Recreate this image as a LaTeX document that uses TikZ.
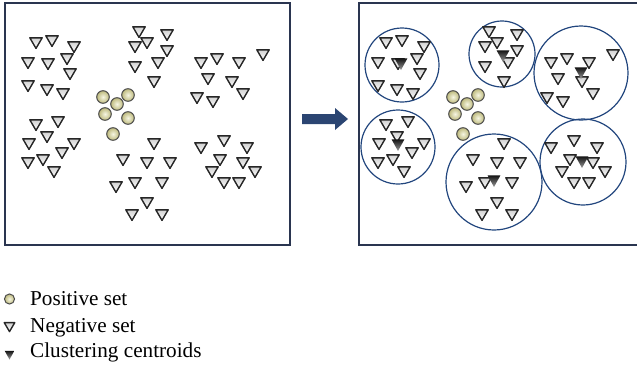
\documentclass[tikz,border=0pt]{standalone}
\usepackage{fontspec}
\setmainfont{Liberation Serif}
\definecolor{navy}{HTML}{2B4572}
\definecolor{ringc}{HTML}{22467E}
\definecolor{framec}{HTML}{2A3550}
\definecolor{posin}{HTML}{F6F6E2}
\definecolor{posout}{HTML}{BDB97C}
\tikzset{
  negtri/.pic={\path[draw=black!85, line width=1.4pt, line join=round, top color=black!18, bottom color=white]
     (-6.2,-5.2) -- (6.2,-5.2) -- (0,5.4) -- cycle;},
  centtri/.pic={\path[top color=black!92, bottom color=black!40]
     (-6.4,-5.6) -- (6.4,-5.6) -- (0,6) -- cycle;},
  posdot/.pic={\path[draw=black!70, line width=1pt, inner color=posin, outer color=posout]
     (0,0) circle (6.3);},
  panel/.style={draw=framec, line width=1.1pt},
  ring/.style={draw=ringc, line width=1.2pt},
  legtext/.style={anchor=base west, inner sep=0pt, font=\fontsize{21.2}{25}\selectfont},
}
\begin{document}
\begin{tikzpicture}[x=1pt,y=-1pt]
\useasboundingbox (0,0) rectangle (637,370);
\clip (0,0) rectangle (637,370);
% panels
\draw[panel] (5,3) rectangle (290,245);
\draw[panel] (359,3) rectangle (660,245);
% arrow
\fill[navy] (302,114) -- (335,114) -- (335,108) -- (348,119) -- (335,130) -- (335,124) -- (302,124) -- cycle;
% rings (right panel)
\draw[ring] (402,65) circle (37);
\draw[ring] (502,54) circle (33);
\draw[ring] (581,73) circle (47);
\draw[ring] (398,147) circle (37);
\draw[ring] (494,182) circle (48);
\draw[ring] (583,162) circle (43);
% negative set, both panels
\foreach \x/\y in {36/43, 52/41, 74/47, 28/63, 48/64, 67/59, 70/74, 28/86, 47/90, 63/94,
  139/32, 167/35, 135/47, 147/43, 167/51, 135/67, 158/63, 154/82,
  201/63, 217/59, 239/63, 263/55, 208/79, 232/82, 243/94, 197/98, 213/102,
  36/125, 58/122, 47/137, 29/144, 74/144, 62/153, 28/163, 43/160, 54/172,
  154/144, 123/160, 147/163, 170/163, 116/187, 135/183, 162/183, 147/203, 132/215, 162/215,
  201/148, 224/141, 247/148, 220/160, 243/163, 212/172, 255/172, 224/183, 239/183}
{
  \pic at (\x,\y) {negtri};
  \pic at (\x+350,\y) {negtri};
}
% positive set
\foreach \x/\y in {103/97, 117/104, 128/95, 105/114, 128/118, 113/134}
{
  \pic at (\x,\y) {posdot};
  \pic at (\x+350,\y) {posdot};
}
% centroids
\foreach \x/\y in {401/64, 503/56, 581/73, 398/145, 494/181, 582/162}
  \pic at (\x,\y) {centtri};
% legend
\pic[scale=0.8] at (9.5,299) {posdot};
\pic[scale=0.85] at (9.5,327) {negtri};
\pic[scale=0.75] at (9.5,355) {centtri};
\node[legtext] (lpos) at (30,305) {Positive set};
\node[legtext] (lneg) at (30,332) {Negative set};
\node[legtext] (lcen) at (30,357.5) {Clustering centroids};
\end{tikzpicture}
\end{document}
